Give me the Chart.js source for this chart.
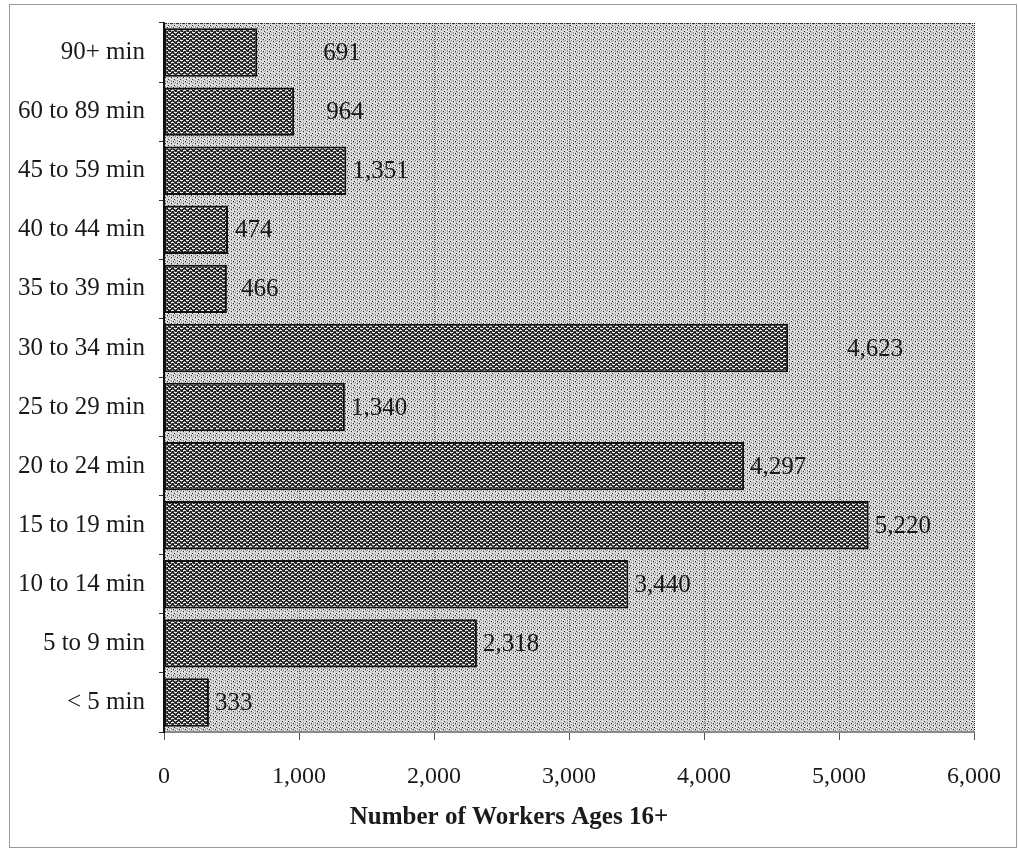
<!DOCTYPE html>
<html>
<head>
<meta charset="utf-8">
<title>Travel Time to Work</title>
<script src="https://cdn.jsdelivr.net/npm/chart.js@4/dist/chart.umd.min.js"></script>
<style>
  html, body { margin: 0; padding: 0; background: #fff; }
  canvas { display: block; }
</style>
</head>
<body>
<canvas id="commute" width="1018" height="850"></canvas>
<script>
// Travel time to work, top row first
const commuteBands = ['90+ min', '60 to 89 min', '45 to 59 min', '40 to 44 min', '35 to 39 min',
  '30 to 34 min', '25 to 29 min', '20 to 24 min', '15 to 19 min', '10 to 14 min', '5 to 9 min', '< 5 min'];
const workers = [691, 964, 1351, 474, 466, 4623, 1340, 4297, 5220, 3440, 2318, 333];
const xTickStep = 1000;
const xMax = 6000;
const axisTitle = 'Number of Workers Ages 16+';

// extra sideways shift (px) for a few of the value labels
const labelNudge = [60, 26, 0, 1, 8, 53, 0, 0, 0, 0, 0, 0];

const SERIF = "'Liberation Serif', 'Times New Roman', serif";
const INK = '#1a1a1a';

// small pixel tiles used as fills
function makePattern(rows, palette) {
  const h = rows.length, w = rows[0].length;
  const c = document.createElement('canvas');
  c.width = w; c.height = h;
  const g = c.getContext('2d');
  rows.forEach((r, y) => [...r].forEach((ch, x) => {
    g.fillStyle = palette[ch];
    g.fillRect(x, y, 1, 1);
  }));
  return g.createPattern(c, 'repeat');
}

const stipple = makePattern([
  'lwlgll',
  'kllwll',
  'lglswl',
  'wllglk',
  'lswllg',
  'gllkwl'
], { l: '#d6d6d6', w: '#f4f4f4', g: '#afafaf', k: '#2a2a2a', s: '#808080' });

const weave = makePattern([
  'wwwkkk',
  'kgkkgk',
  'kkkwww',
  'gkkgkk'
], { k: '#222222', w: '#eeeeee', g: '#8c8c8c' });

const backdrop = {
  id: 'backdrop',
  beforeDraw(chart) {
    const { ctx, chartArea: a } = chart;
    ctx.save();
    ctx.fillStyle = '#fff';
    ctx.fillRect(0, 0, chart.width, chart.height);
    ctx.fillStyle = stipple;
    ctx.fillRect(a.left, a.top, a.right - a.left, a.bottom - a.top);
    // outer frame
    ctx.strokeStyle = '#9a9a9a';
    ctx.lineWidth = 1;
    ctx.strokeRect(9.5, 4.5, 1007, 843);
    ctx.restore();
  },
  beforeDatasetsDraw(chart) {
    const { ctx, chartArea: a } = chart;
    ctx.save();
    ctx.strokeStyle = '#333';
    ctx.lineWidth = 1;
    ctx.setLineDash([1, 1]);
    ctx.beginPath();
    ctx.moveTo(a.left, a.top + 0.5);
    ctx.lineTo(a.right, a.top + 0.5);
    ctx.stroke();
    ctx.restore();
  }
};

const valueLabels = {
  id: 'valueLabels',
  afterDatasetsDraw(chart) {
    const { ctx } = chart;
    const meta = chart.getDatasetMeta(0);
    ctx.save();
    ctx.font = '25px ' + SERIF;
    ctx.fillStyle = INK;
    ctx.textAlign = 'left';
    ctx.textBaseline = 'middle';
    meta.data.forEach((bar, i) => {
      ctx.fillText(workers[i].toLocaleString('en-US'), bar.x + 6 + labelNudge[i], bar.y + 1);
    });
    ctx.restore();
  }
};

new Chart(document.getElementById('commute'), {
  type: 'bar',
  data: {
    labels: commuteBands,
    datasets: [{
      data: workers,
      backgroundColor: weave,
      borderColor: '#111',
      borderWidth: 2,
      borderSkipped: false,
      barPercentage: 0.82,
      categoryPercentage: 1
    }]
  },
  options: {
    indexAxis: 'y',
    responsive: false,
    animation: false,
    devicePixelRatio: 1,
    layout: { padding: { top: 23, left: 0, right: 0, bottom: 0 } },
    plugins: {
      legend: { display: false },
      tooltip: { enabled: false },
      title: {
        display: true,
        position: 'bottom',
        text: axisTitle,
        color: INK,
        font: { family: SERIF, size: 25, weight: 'bold' },
        padding: { top: 4, bottom: 17 }
      }
    },
    scales: {
      x: {
        min: 0,
        max: xMax,
        ticks: { stepSize: xTickStep, color: INK, font: { family: SERIF, size: 24 }, padding: 22 },
        grid: {
          color: (c) => c.index === 6 ? '#222' : (c.index === 0 ? 'rgba(0,0,0,0)' : '#6a6a6a'),
          lineWidth: 1,
          tickLength: 8,
          tickColor: '#555'
        },
        border: { color: '#8a8a8a', width: 2, dash: [1, 1] },
        afterFit: (s) => { s.height = 67; s.paddingLeft = 0; s.paddingRight = 0; }
      },
      y: {
        ticks: { color: INK, font: { family: SERIF, size: 25 }, padding: 14 },
        grid: { drawOnChartArea: false, tickLength: 5, tickColor: '#333', offset: true },
        border: { color: '#111', width: 2 },
        afterFit: (s) => { s.width = 164; s.paddingTop = 0; s.paddingBottom = 0; }
      },
      gutter: {
        type: 'linear',
        position: 'right',
        display: true,
        grid: { display: false },
        ticks: { display: false },
        border: { display: false },
        afterFit: (s) => { s.width = 44; s.paddingTop = 0; s.paddingBottom = 0; }
      }
    }
  },
  plugins: [backdrop, valueLabels]
});
</script>
</body>
</html>
